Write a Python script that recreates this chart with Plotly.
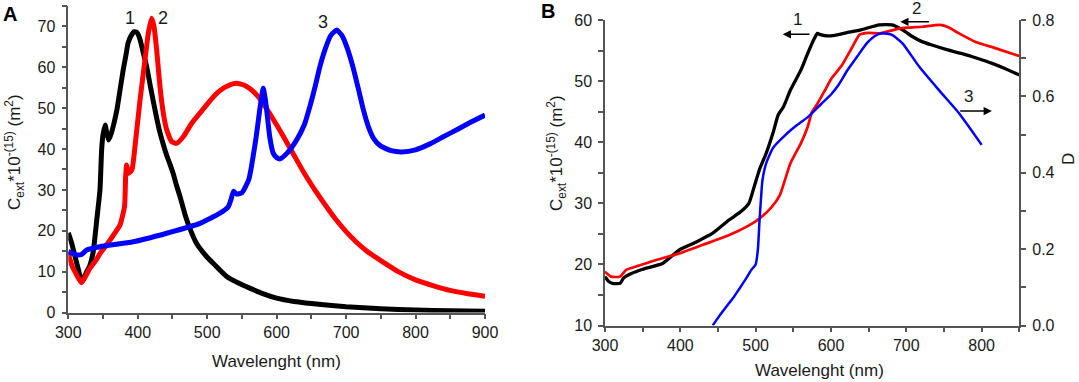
import plotly.graph_objects as go

# ---------------- Panel A data ----------------
wl_a1 = [300, 305, 310, 315, 319, 322, 326, 331, 336, 341, 345.6, 348, 350, 353, 355, 358, 362, 366, 370, 375,
         379, 383, 386, 390, 395, 399, 403, 408, 413, 418, 422, 427, 432, 437, 442, 447, 451, 456, 461, 468,
         475, 485, 499, 510, 528, 545, 562, 580, 600, 625, 650, 700, 750, 800, 850, 900]
c_a1 = [19.5, 16.9, 13.5, 10.2, 7.5, 8.3, 9.8, 11.5, 15.0, 22.7, 30.0, 39.8, 43.5, 45.9, 44.3, 42.2, 43.9, 46.5, 49.6, 55.0,
        59.3, 63.0, 65.9, 67.6, 68.7, 68.5, 67.0, 63.5, 60.0, 55.5, 52.0, 47.8, 44.0, 41.0, 38.3, 36.0, 34.0, 31.0, 28.3, 24.0,
        20.6, 16.8, 13.7, 11.8, 8.8, 7.2, 5.9, 4.6, 3.5, 2.7, 2.2, 1.4, 0.9, 0.6, 0.4, 0.3]

wl_a2 = [300, 305, 310, 315, 319.3, 326, 331, 340, 345.6, 360, 374.4, 381, 382.5, 384, 386.8, 391.6, 396, 403.3, 410.4, 415.2,
         420, 423.4, 427.3, 432, 436.8, 441.7, 448.9, 456, 465.6, 477.7, 489.6, 500, 510, 520, 530, 542, 555, 565, 575, 585,
         595, 605, 615, 625, 640, 655, 670, 685, 700, 715, 730, 750, 775, 800, 825, 850, 875, 900]
c_a2 = [14.5, 11.6, 9.8, 8.3, 7.3, 9.2, 10.8, 12.8, 14.4, 17.7, 21.4, 26.0, 33.0, 36.1, 34.1, 34.9, 40.6, 52.0, 61.8, 68.3,
        72.0, 70.0, 64.2, 55.3, 48.8, 44.7, 41.8, 41.4, 43.0, 46.3, 48.8, 51.0, 53.0, 54.5, 55.5, 56.1, 55.5, 54.3, 52.5, 50.0,
        47.3, 44.5, 41.5, 38.5, 34.0, 30.0, 26.3, 22.8, 19.8, 17.2, 15.0, 12.7, 10.0, 8.0, 6.6, 5.4, 4.6, 4.0]

wl_a3 = [300, 312, 319, 326.5, 345.6, 393.6, 441.7, 489.6, 518.4, 530.4, 534, 538, 542, 550, 560, 570, 576, 580.7, 585, 590,
         595, 600, 605, 615, 628, 640, 648, 655, 662, 670, 678, 686.5, 694, 702, 710, 718, 725, 732, 740, 750,
         765, 780, 800, 820, 840, 860, 880, 900]
c_a3 = [14.9, 14.1, 14.2, 15.3, 16.1, 17.3, 19.4, 21.8, 24.3, 25.9, 27.5, 29.7, 29.0, 29.3, 32.6, 42.4, 50.0, 54.9, 50.5, 43.0,
        39.0, 37.9, 37.6, 39.0, 42.0, 46.0, 50.5, 55.0, 60.0, 64.5, 67.8, 69.1, 67.8, 64.5, 60.0, 54.5, 49.5, 45.5, 42.5, 40.7,
        39.6, 39.3, 39.8, 41.2, 43.0, 44.8, 46.6, 48.3]

# ---------------- Panel B data ----------------
wl_b1 = [300, 305, 310, 320, 325, 335, 350, 377, 399, 420, 443, 465, 480, 491, 498, 505, 514, 523, 530, 537,
         546, 560, 569, 578, 582, 586, 595, 605, 620, 640, 664, 681, 695, 708, 720, 734, 755, 774, 795, 814,
         830, 850]
c_b1 = [18.0, 17.2, 16.9, 16.9, 17.8, 18.5, 19.2, 20.2, 22.4, 23.6, 25.1, 27.3, 28.6, 30.0, 32.7, 35.5, 38.2, 41.5, 44.5, 45.8,
        48.5, 51.8, 54.5, 57.0, 57.8, 57.6, 57.4, 57.5, 57.9, 58.4, 59.2, 59.2, 58.4, 57.3, 56.5, 55.9, 55.1, 54.5, 53.7, 52.9,
        52.1, 51.0]

wl_b2 = [300, 308, 320, 328, 345, 370, 399, 430, 465, 490, 505, 520, 532, 546, 560, 569, 575, 582, 592, 601,
         614, 628, 638, 650, 665, 690, 721, 745, 756, 770, 792, 818, 850]
c_b2 = [18.8, 18.0, 18.0, 19.1, 19.8, 20.8, 21.8, 23.2, 24.8, 26.3, 27.5, 29.2, 31.3, 36.5, 39.8, 42.5, 45.0, 46.3, 48.5, 50.5,
        52.5, 55.5, 57.6, 57.9, 57.8, 58.6, 58.9, 59.2, 58.8, 57.8, 56.4, 55.4, 54.1]

wl_b3 = [443, 450, 461, 470, 478.6, 487, 494, 500, 503, 505, 507, 509, 514, 523, 540, 555, 570, 587, 600, 610,
         622, 635, 648, 660, 668, 681, 695, 717, 743, 770, 785, 800]
d_b3 = [0.0, 0.02, 0.049, 0.072, 0.097, 0.122, 0.145, 0.16, 0.2, 0.27, 0.33, 0.38, 0.425, 0.465, 0.5, 0.525, 0.547, 0.58, 0.605, 0.63,
        0.669, 0.705, 0.74, 0.76, 0.765, 0.761, 0.739, 0.678, 0.617, 0.556, 0.515, 0.473]

W, H = 1079, 382
FONT = "Liberation Sans, Arial, sans-serif"
AXC = "#555555"
TXT = "#1a1a1a"


def px(x):
    return x / W


def py(y):
    return 1 - y / H


def line(color, width):
    return dict(color=color, width=width, shape="spline", smoothing=0.5)


fig = go.Figure()
fig.add_trace(go.Scatter(x=wl_a1, y=c_a1, mode="lines", line=line("#000000", 5), xaxis="x", yaxis="y"))
fig.add_trace(go.Scatter(x=wl_a2, y=c_a2, mode="lines", line=line("#ff0000", 5), xaxis="x", yaxis="y"))
fig.add_trace(go.Scatter(x=wl_a3, y=c_a3, mode="lines", line=line("#0000ff", 5), xaxis="x", yaxis="y"))
fig.add_trace(go.Scatter(x=wl_b1, y=c_b1, mode="lines", line=line("#000000", 3.3), xaxis="x2", yaxis="y2"))
fig.add_trace(go.Scatter(x=wl_b2, y=c_b2, mode="lines", line=line("#ff0000", 2.7), xaxis="x2", yaxis="y2"))
fig.add_trace(go.Scatter(x=wl_b3, y=d_b3, mode="lines", line=line("#0000ff", 2.5), xaxis="x2", yaxis="y3"))

common = dict(showline=True, linecolor=AXC, linewidth=1.5, ticks="outside", ticklen=5, tickwidth=1.5,
              tickcolor=AXC, showgrid=False, zeroline=False, automargin=False,
              tickfont=dict(family=FONT, size=16, color=TXT))
minor = dict(ticks="outside", ticklen=5, tickwidth=1.5, tickcolor=AXC)

fig.update_layout(
    width=W, height=H, autosize=False,
    margin=dict(l=0, r=0, t=0, b=0, pad=0),
    paper_bgcolor="white", plot_bgcolor="white",
    showlegend=False,
    font=dict(family=FONT, color=TXT),
    xaxis=dict(domain=[px(68.3), px(485)], anchor="y", range=[300, 900], tick0=300, dtick=100,
               minor=dict(dtick=50, **minor), **common),
    yaxis=dict(domain=[py(312.5), py(6)], anchor="x", range=[0, 75], tick0=0, dtick=10,
               minor=dict(dtick=5, **minor), ticklabelstandoff=3, **common),
    xaxis2=dict(domain=[px(605), px(1019.3)], anchor="y2", range=[300, 850], tick0=300, dtick=100,
                minor=dict(dtick=50, **minor), **common),
    yaxis2=dict(domain=[py(325.5), py(20)], anchor="x2", range=[10, 60], tick0=10, dtick=10,
                minor=dict(dtick=5, **minor), ticklabelstandoff=3, **common),
    yaxis3=dict(overlaying="y2", side="right", anchor="x2", range=[0, 0.8], tick0=0, dtick=0.2, tickformat=".1f",
                minor=dict(dtick=0.1, **minor), ticklabelstandoff=3, **common),
)

C = dict(xanchor="center", yanchor="middle", showarrow=False)
ann = []
ann.append(dict(text="<b>A</b>", x=px(10), y=py(14), xref="paper", yref="paper",
                font=dict(family=FONT, size=20, color="#000"), **C))
ann.append(dict(text="<b>B</b>", x=px(547.5), y=py(11.5), xref="paper", yref="paper",
                font=dict(family=FONT, size=20, color="#000"), **C))
ytitle = "C<sub>ext</sub>*10<sup>-(15)</sup> (m<sup>2</sup>)"
ann.append(dict(text="Wavelenght (nm)", x=px(276.5), y=py(361), xref="paper", yref="paper",
                font=dict(family=FONT, size=17, color=TXT), **C))
ann.append(dict(text="Wavelenght (nm)", x=px(820), y=py(370), xref="paper", yref="paper",
                font=dict(family=FONT, size=17, color=TXT), **C))
ann.append(dict(text=ytitle, x=px(14), y=py(152), xref="paper", yref="paper", textangle=-90,
                font=dict(family=FONT, size=17, color=TXT), **C))
ann.append(dict(text=ytitle, x=px(556), y=py(153), xref="paper", yref="paper", textangle=-90,
                font=dict(family=FONT, size=17, color=TXT), **C))
ann.append(dict(text="D", x=px(1068), y=py(159), xref="paper", yref="paper", textangle=-90,
                font=dict(family=FONT, size=17, color=TXT), **C))
for t, xx, yy in [("1", 389, 72), ("2", 437, 72), ("3", 667, 71.2)]:
    ann.append(dict(text=t, x=xx, y=yy, xref="x", yref="y",
                    font=dict(family=FONT, size=18, color=TXT), **C))
for t, xx, yy in [("1", 555.7, 60.0), ("3", 782.8, 47.45)]:
    ann.append(dict(text=t, x=xx, y=yy, xref="x2", yref="y2",
                    font=dict(family=FONT, size=17, color=TXT), **C))
# label "2" sits above the top of the axis range, so place it in paper coordinates
ann.append(dict(text="2", x=px(916), y=py(8.5), xref="paper", yref="paper",
                font=dict(family=FONT, size=17, color=TXT), **C))
for hx, tx, yy in [(535.9, 573.4, 57.65), (692, 732, 59.7), (813.6, 769.6, 45.1)]:
    ann.append(dict(text="", x=hx, y=yy, ax=tx, ay=yy, xref="x2", yref="y2", axref="x2", ayref="y2",
                    showarrow=True, arrowhead=2, arrowsize=1.1, arrowwidth=1.5, arrowcolor="#000"))

fig.update_layout(annotations=ann)
fig.write_html("out.html", config={"displayModeBar": False, "responsive": False},
               post_script="document.body.style.margin='0px';document.body.style.overflow='hidden';")
